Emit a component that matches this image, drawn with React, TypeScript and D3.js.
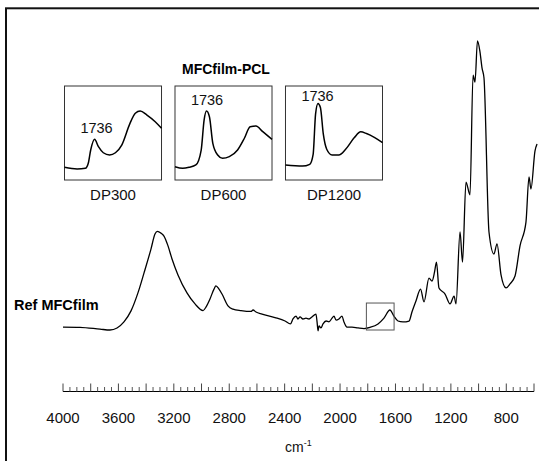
import React from "react";
import * as d3 from "d3";

// Reference MFC film spectrum (wavenumber cm-1, absorbance a.u.)
const refWavenumber = [4000, 3877, 3733, 3661, 3610, 3560, 3509, 3459, 3415, 3365, 3336, 3318, 3293, 3271, 3242, 3213, 3170, 3105, 3047, 2989, 2968, 2939, 2910, 2896, 2874, 2852, 2809, 2773, 2715, 2643, 2628, 2607, 2563, 2470, 2397, 2358, 2340, 2318, 2304, 2289, 2268, 2246, 2224, 2203, 2174, 2166, 2159, 2152, 2138, 2123, 2101, 2080, 2058, 2044, 2029, 2008, 1986, 1972, 1950, 1914, 1870, 1827, 1784, 1726, 1683, 1640, 1611, 1582, 1546, 1502, 1481, 1452, 1419, 1394, 1358, 1336, 1318, 1304, 1286, 1242, 1206, 1177, 1163, 1134, 1116, 1091, 1062, 1040, 1026, 1008, 990, 975, 961, 925, 889, 867, 838, 802, 773, 737, 701, 658, 636, 622, 593, 578];
const refAbsorbance = [1.0, 0.9, 0.3, 0.0, 0.7, 2.8, 6.6, 12.8, 19.7, 27.9, 33.1, 34.0, 33.4, 32.4, 29.0, 24.5, 19.0, 12.8, 9.0, 6.7, 7.9, 10.7, 14.1, 15.2, 14.1, 12.4, 8.3, 7.2, 6.7, 6.4, 6.9, 6.2, 5.5, 4.3, 3.1, 2.1, 3.8, 4.8, 3.8, 4.5, 3.8, 4.1, 3.8, 4.5, 5.5, 2.8, -0.3, 1.4, 0.7, 2.1, 3.1, 2.8, 4.1, 4.8, 3.4, 3.8, 4.8, 2.8, 1.0, 1.0, 0.7, 0.5, 0.9, 2.1, 4.1, 6.9, 4.8, 3.1, 2.8, 3.1, 6.2, 10.0, 14.1, 9.7, 17.9, 16.9, 20.0, 23.4, 14.5, 12.4, 9.0, 11.7, 9.0, 33.8, 23.4, 51.0, 46.6, 87.9, 85.5, 99.7, 95.9, 90.3, 86.9, 33.8, 26.2, 29.7, 19.0, 14.5, 15.9, 18.6, 29.0, 37.2, 52.8, 48.6, 61.7, 64.1];

// Insets: MFCfilm-PCL carbonyl region
const insetNames = ["DP300", "DP600", "DP1200"];
const dp300Wavenumber = [1800, 1774, 1757, 1751, 1746, 1738, 1730, 1720, 1707, 1695, 1682, 1665, 1654, 1644, 1630, 1613, 1600];
const dp300Absorbance = [0.135, 0.117, 0.124, 0.178, 0.319, 0.433, 0.354, 0.29, 0.266, 0.29, 0.372, 0.603, 0.71, 0.734, 0.691, 0.62, 0.55];
const dp600Wavenumber = [1800, 1784, 1771, 1757, 1746, 1740, 1735, 1729, 1722, 1712, 1702, 1688, 1671, 1657, 1645, 1633, 1619, 1600];
const dp600Absorbance = [0.141, 0.124, 0.135, 0.16, 0.319, 0.638, 0.734, 0.673, 0.39, 0.266, 0.231, 0.248, 0.319, 0.444, 0.567, 0.574, 0.514, 0.433];
const dp1200Wavenumber = [1800, 1765, 1750, 1743, 1738, 1733, 1728, 1722, 1715, 1704, 1690, 1676, 1658, 1645, 1633, 1616, 1600];
const dp1200Absorbance = [0.159, 0.148, 0.167, 0.272, 0.701, 0.815, 0.772, 0.487, 0.327, 0.266, 0.266, 0.327, 0.451, 0.512, 0.494, 0.451, 0.398];
const peakLabel = "1736";
const peakWavenumber = 1736;

// Axis
const tickLabels = [4000, 3600, 3200, 2800, 2400, 2000, 1600, 1200, 800];
const highlightWavenumber = [1810, 1610];
const highlightAbsorbance = [0, 9.3];

const FONT = "'Liberation Sans', Arial, Helvetica, sans-serif";

export default function App() {
  const x = d3.scaleLinear().domain([4000, 600]).range([63, 534]);
  const y = d3.scaleLinear().domain([0, 100]).range([330, 40]);
  const line = d3
    .line<[number, number]>()
    .x((d) => x(d[0]))
    .y((d) => y(d[1]))
    .curve(d3.curveMonotoneX);
  const refPts: [number, number][] = refWavenumber.map((w, i) => [w, refAbsorbance[i]]);

  const axisY = 391.5;
  const majorTicks = d3.range(4000, 599, -200);
  const minorTicks = d3.range(4000, 599, -50).filter((v) => v % 200 !== 0);

  const band = d3.scaleBand<string>().domain(insetNames).range([64.5, 382.5]).paddingInner(0.122).paddingOuter(0);
  const insetTop = 86;
  const insetBottom = 180;
  const yi = d3.scaleLinear().domain([0, 1]).range([insetBottom, insetTop]);
  const insetData = [
    [dp300Wavenumber, dp300Absorbance],
    [dp600Wavenumber, dp600Absorbance],
    [dp1200Wavenumber, dp1200Absorbance],
  ];

  return (
    <svg
      width={539}
      height={461}
      style={{ position: "absolute", left: 0, top: 0, background: "#fff" }}
      fontFamily={FONT}
    >
      <rect x={0} y={0} width={539} height={461} fill="#fff" />
      {/* outer frame */}
      <rect x={6} y={8.3} width={560} height={480} fill="none" stroke="#111" strokeWidth={2} />

      {/* main spectrum */}
      <path d={line(refPts) || ""} fill="none" stroke="#000" strokeWidth={1.3} strokeLinejoin="round" />
      <rect
        x={x(highlightWavenumber[0])}
        y={y(highlightAbsorbance[1])}
        width={x(highlightWavenumber[1]) - x(highlightWavenumber[0])}
        height={y(highlightAbsorbance[0]) - y(highlightAbsorbance[1])}
        fill="none"
        stroke="#555"
        strokeWidth={1}
      />
      <text x={14} y={310} fontSize={14.5} fontWeight="bold" fill="#000">
        Ref MFCfilm
      </text>

      {/* insets */}
      <text x={226} y={73.5} fontSize={14} fontWeight="bold" textAnchor="middle" fill="#000">
        MFCfilm-PCL
      </text>
      {insetNames.map((name, k) => {
        const x0 = band(name) as number;
        const bw = band.bandwidth();
        const xi = d3.scaleLinear().domain([1800, 1600]).range([x0, x0 + bw]);
        const [ws, as] = insetData[k];
        const pts: [number, number][] = ws.map((w, i) => [w, as[i]]);
        const l = d3
          .line<[number, number]>()
          .x((d) => xi(d[0]))
          .y((d) => yi(d[1]))
          .curve(d3.curveMonotoneX);
        const peakVal = d3.max(as.filter((_, i) => ws[i] > 1700)) as number;
        const labelY = Math.max(yi(peakVal) - 6, insetTop + 15);
        return (
          <g key={name}>
            <rect x={x0} y={insetTop} width={bw} height={insetBottom - insetTop} fill="none" stroke="#333" strokeWidth={1} />
            <path d={l(pts) || ""} fill="none" stroke="#000" strokeWidth={1.5} strokeLinejoin="round" />
            <text x={xi(peakWavenumber) + 1} y={labelY} fontSize={14.5} textAnchor="middle" fill="#111">
              {peakLabel}
            </text>
            <text x={x0 + bw / 2} y={200} fontSize={15} textAnchor="middle" fill="#111">
              {name}
            </text>
          </g>
        );
      })}

      {/* x axis */}
      <line x1={x(4000)} x2={x(600)} y1={axisY} y2={axisY} stroke="#000" strokeWidth={1} />
      {majorTicks.map((t) => (
        <line key={"M" + t} x1={x(t)} x2={x(t)} y1={axisY} y2={axisY - 8} stroke="#444" strokeWidth={1} />
      ))}
      {minorTicks.map((t) => (
        <line key={"m" + t} x1={x(t)} x2={x(t)} y1={axisY} y2={axisY - 4.5} stroke="#555" strokeWidth={1} />
      ))}
      {tickLabels.map((t) => (
        <text key={"L" + t} x={x(t)} y={423} fontSize={15} textAnchor="middle" fill="#111">
          {t}
        </text>
      ))}
      <text x={285} y={452} fontSize={14} fill="#111">
        cm
        <tspan fontSize={9} dy={-6}>
          -1
        </tspan>
      </text>
    </svg>
  );
}
